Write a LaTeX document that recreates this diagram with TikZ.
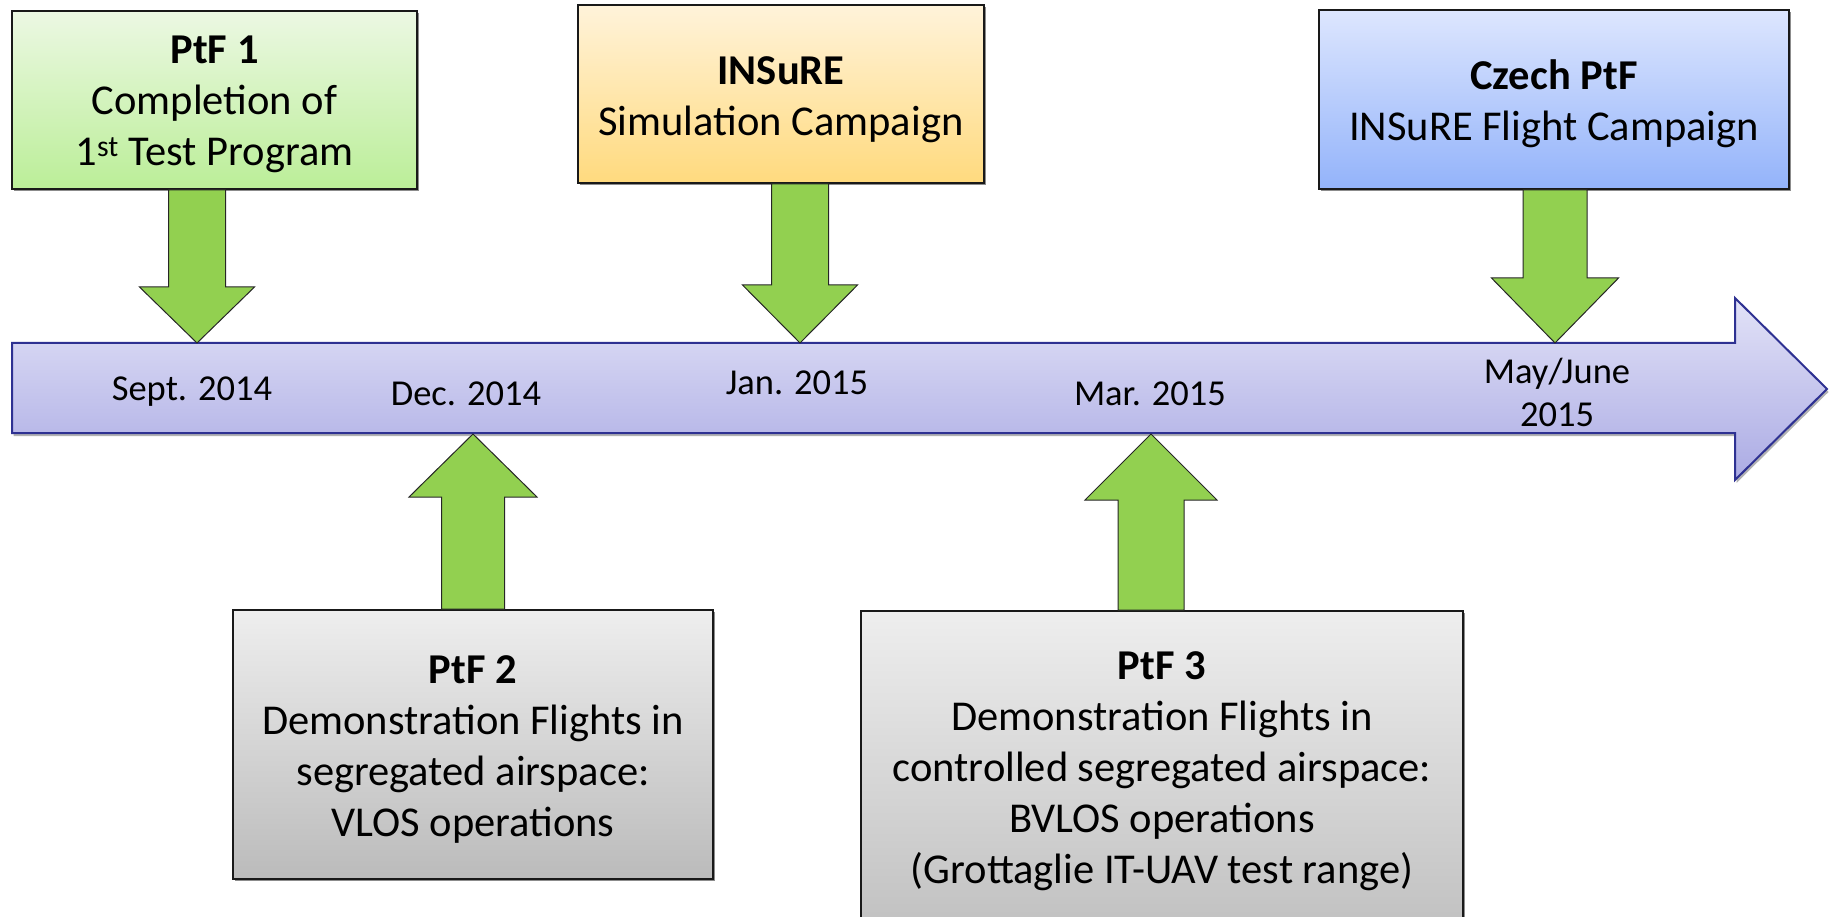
\documentclass[tikz,border=0pt]{standalone}
\usepackage{fontspec}
\setmainfont{Carlito}
\usetikzlibrary{calc,shadows}

\definecolor{lineblue}{HTML}{2E3192}
\definecolor{tltop}{HTML}{E2E2F7}
\definecolor{tlbot}{HTML}{ABABE4}
\definecolor{arrowgreen}{HTML}{92D050}
\definecolor{greentop}{HTML}{ECF8E3}
\definecolor{greenbot}{HTML}{BBEE98}
\definecolor{orangetop}{HTML}{FFF3DA}
\definecolor{orangebot}{HTML}{FFDA7E}
\definecolor{bluetop}{HTML}{DDE6FE}
\definecolor{bluebot}{HTML}{93B3FA}
\definecolor{graytop}{HTML}{EEEEEE}
\definecolor{graybot}{HTML}{BBBBBB}

% vertical block arrow: from the node edge #1 to the tip #2
% #3 half shaft width, #4 half head width, #5 head length
\newcommand\blockarrow[5]{%
  \draw[greenblock] let \p1=(#1), \p2=(#2), \n1={(\y1-\y2)/abs(\y1-\y2)} in
    (\x2-#3pt,\y1) -- (\x2-#3pt,\y2+\n1*#5pt) -- (\x2-#4pt,\y2+\n1*#5pt)
    -- (\x2,\y2) -- (\x2+#4pt,\y2+\n1*#5pt) -- (\x2+#3pt,\y2+\n1*#5pt)
    -- (\x2+#3pt,\y1) -- cycle;}

\begin{document}
\begin{tikzpicture}[x=1pt,y=-1pt,
  box/.style={draw=black!90, line width=1.8pt, inner sep=0pt,
    drop shadow={shadow xshift=1.5pt, shadow yshift=-2pt, opacity=0.45, fill=black}},
  boxtext/.style={align=center, inner sep=0pt, font=\fontsize{42.5}{51}\selectfont},
  greenblock/.style={fill=arrowgreen, draw=black!85, line width=1pt, line join=miter},
  datelabel/.style={font=\fontsize{36.5}{44}\selectfont, anchor=base, align=center, inner sep=0pt},
  timeline/.style={draw=lineblue, line width=2pt, top color=tltop, bottom color=tlbot,
    drop shadow={shadow xshift=1.5pt, shadow yshift=-3pt, opacity=0.3, fill=black}}]

\clip (0,0) rectangle (1832,917);

% time axis
\path[timeline] (12,343) -- (1735,343) -- (1735,298) -- (1827,389) -- (1735,480)
  -- (1735,433) -- (12,433) -- cycle;

% points on the axis
\coordinate (t1) at (197,343);
\coordinate (t2) at (800,343);
\coordinate (t3) at (1555,343);
\coordinate (t4) at (473,434);
\coordinate (t5) at (1151,434);

% milestone boxes
\node[box, minimum width=405pt, minimum height=178pt, top color=greentop, bottom color=greenbot]
  (p1) at (214.5,100) {};
\node[box, minimum width=406pt, minimum height=178pt, top color=orangetop, bottom color=orangebot]
  (ins) at (781,94) {};
\node[box, minimum width=470pt, minimum height=179pt, top color=bluetop, bottom color=bluebot]
  (cz) at (1554,99.5) {};
\node[box, minimum width=480pt, minimum height=269pt, top color=graytop, bottom color=graybot]
  (p2) at (473,744.5) {};
\node[box, minimum width=602pt, minimum height=360pt, top color=graytop, bottom color=graybot]
  (p3) at (1162,791) {};

% box texts
\node[boxtext] (p1t) at (214.5,104) {\textbf{PtF 1}\\Completion of\\1\textsuperscript{st} Test Program};
\node[boxtext] (inst) at (781,99.5) {\textbf{INSuRE}\\Simulation Campaign};
\node[boxtext] (czt) at (1554,104) {\textbf{Czech PtF}\\INSuRE Flight Campaign};
\node[boxtext] (p2t) at (473,749.8) {\textbf{PtF 2}\\Demonstration Flights in\\segregated airspace:\\VLOS operations};
\node[boxtext] (p3t) at (1162,771) {\textbf{PtF 3}\\Demonstration Flights in\\controlled segregated airspace:\\BVLOS operations\\(Grottaglie IT-UAV test range)};

% arrows onto the axis
\blockarrow{p1.south}{t1}{28.5}{57.5}{56}
\blockarrow{ins.south}{t2}{28.5}{57.5}{58}
\blockarrow{cz.south}{t3}{32}{63.5}{65}
\blockarrow{p2.north}{t4}{31.5}{64}{63}
\blockarrow{p3.north}{t5}{33}{66}{66}

% dates
\node[datelabel] (d1) at (192,400) {Sept. 2014};
\node[datelabel] (d2) at (466,405) {Dec. 2014};
\node[datelabel] (d3) at (797,395) {Jan. 2015};
\node[datelabel] (d4) at (1150,406) {Mar. 2015};
\node[datelabel, anchor=center, font=\fontsize{36.5}{43}\selectfont] (d5) at (1557,392) {May/June\\2015};

\end{tikzpicture}
\end{document}
